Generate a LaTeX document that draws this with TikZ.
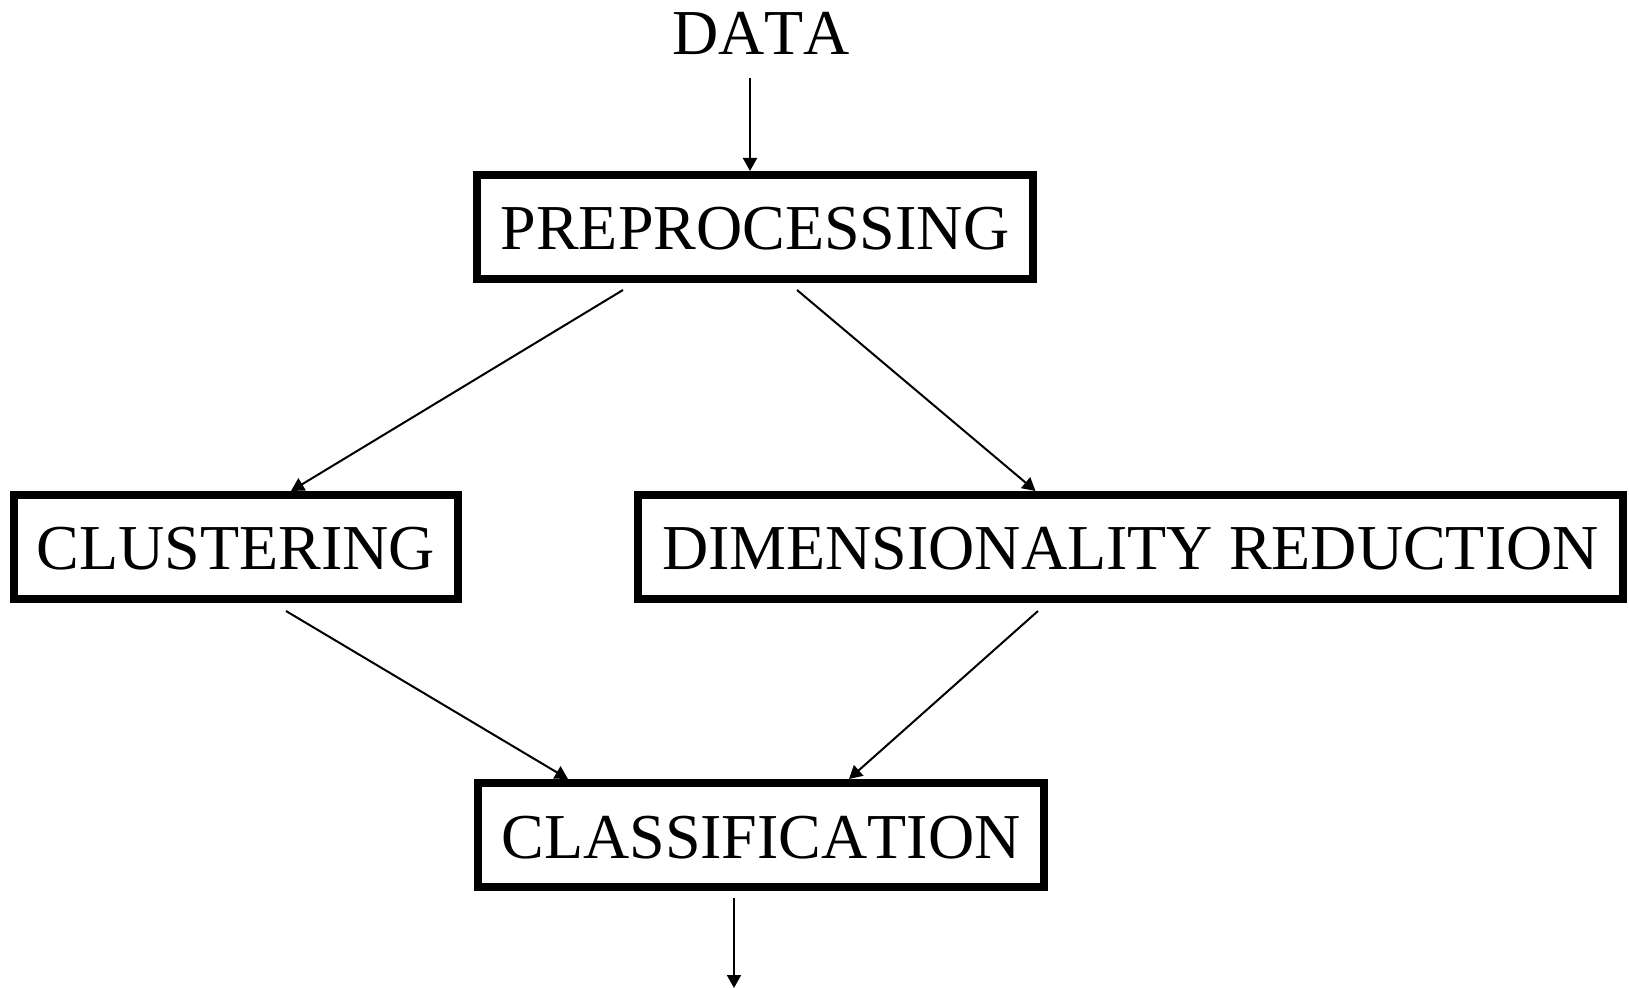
\documentclass[tikz,border=0pt]{standalone}
\usepackage{fontspec}
\setmainfont[Kerning=Off]{Liberation Serif}
\usetikzlibrary{arrows.meta,calc}
\tikzset{
  stagebox/.style={draw, line width=4pt, inner sep=0pt, minimum height=52pt,
    text height=23pt, text depth=0pt, font=\fontsize{32}{38}\selectfont},
  flow/.style={line width=1pt, -{Triangle[length=6.5pt,width=7pt]}},
}
\begin{document}
\begin{tikzpicture}[x=0.5pt,y=-0.5pt]
\useasboundingbox (0,0) rectangle (1629,988);
\node[anchor=base, inner sep=0pt, text depth=0pt, font=\fontsize{32}{38}\selectfont] (data) at (761,55) {DATA};
\node[stagebox, minimum width=278pt] (pre) at (755,227) {PREPROCESSING};
\node[stagebox, minimum width=222pt] (clus) at (236,547) {CLUSTERING};
\node[stagebox, minimum width=492.5pt] (dim) at (1130.5,547) {DIMENSIONALITY REDUCTION};
\node[stagebox, minimum width=283pt] (class) at (761,835) {CLASSIFICATION};
\coordinate (out) at (734,988);
\draw[flow] ($(data.south)+(-11,23)$) -- ($(pre.north)+(-5,0)$);
\draw[flow] ($(pre.south)+(-132,7)$) -- ($(clus.north)+(55,0)$);
\draw[flow] ($(pre.south)+(42,7)$) -- ($(dim.north)+(-95,0)$);
\draw[flow] ($(clus.south)+(50,8)$) -- ($(class.north)+(-193,0)$);
\draw[flow] ($(dim.south)+(-92.5,8)$) -- ($(class.north)+(88,0)$);
\draw[flow] ($(class.south)+(-27,7)$) -- (out);
\end{tikzpicture}
\end{document}
